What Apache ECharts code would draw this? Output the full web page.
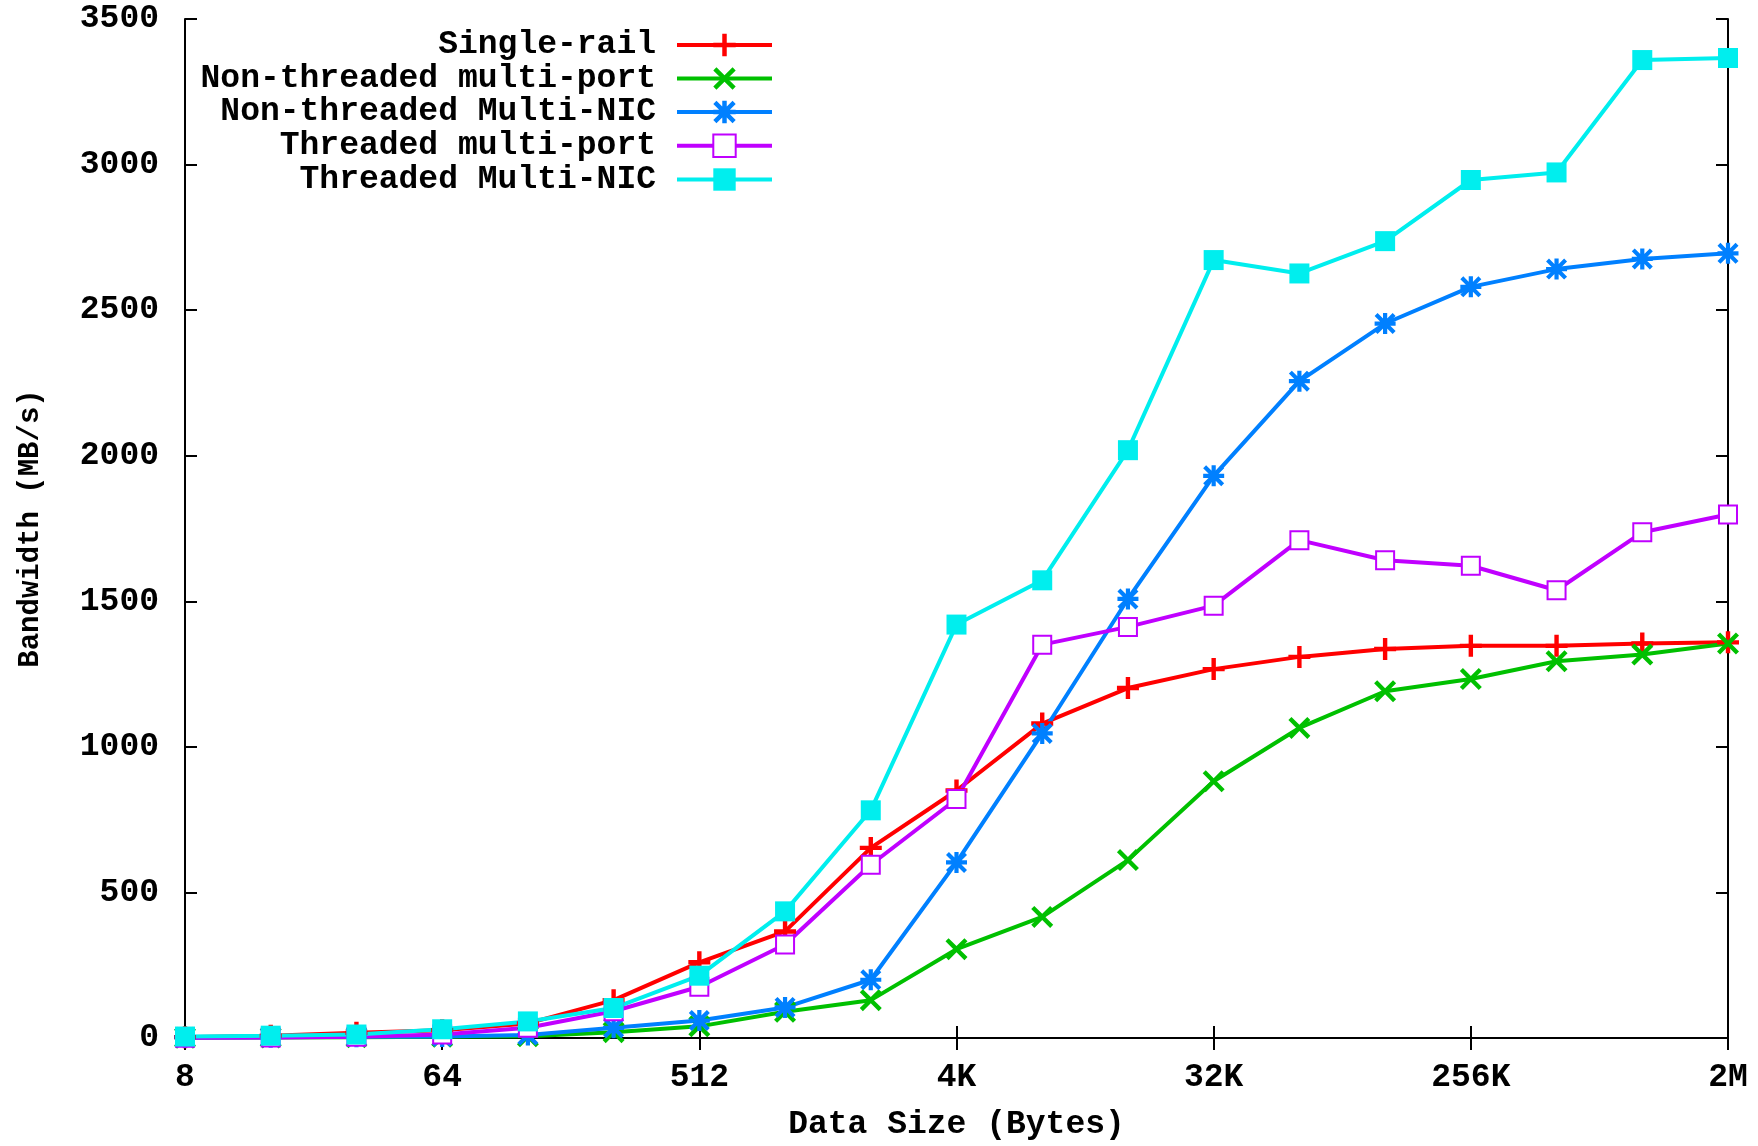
<!DOCTYPE html>
<html><head><meta charset="utf-8">
<script src="https://cdn.jsdelivr.net/npm/echarts@6/dist/echarts.min.js"></script>
<style>html,body{margin:0;padding:0;background:#fff}#c{width:1758px;height:1146px}</style>
</head><body><div id="c"></div><script>
const categories = ['8','16','32','64','128','256','512','1K','2K','4K','8K','16K','32K','64K','128K','256K','512K','1M','2M'];
const seriesNames = ['Single-rail','Non-threaded multi-port','Non-threaded Multi-NIC','Threaded multi-port','Threaded Multi-NIC'];
const singleRail        = [3, 8, 18, 27, 50, 130, 260, 366, 653, 850, 1080, 1202, 1267, 1309, 1336, 1347, 1347, 1355, 1359];
const ntMultiPort       = [1, 2, 3, 4, 6, 20, 40, 90, 130, 305, 416, 611, 882, 1065, 1191, 1233, 1294, 1317, 1355];
const ntMultiNIC        = [2, 3, 4, 5, 10, 35, 60, 105, 200, 603, 1046, 1508, 1931, 2256, 2454, 2580, 2641, 2676, 2695];
const tMultiPort        = [1, 2, 4, 12, 35, 92, 176, 321, 595, 821, 1351, 1412, 1485, 1710, 1641, 1622, 1538, 1737, 1798];
const tMultiNIC         = [5, 8, 12, 30, 57, 103, 214, 435, 782, 1420, 1572, 2019, 2672, 2626, 2737, 2947, 2973, 3359, 3366];
const yMin = 0, yMax = 3500, yStep = 500;

const FONT = 'Liberation Mono';
const colors = ['#ff0000', '#00c000', '#0080ff', '#c000ff', '#00eeee'];
const PLUS = 'path://M4,0L6,0L6,10L4,10Z M0,4L10,4L10,6L0,6Z';
const CROSS = 'path://M0,1.4L1.4,0L5,3.6L8.6,0L10,1.4L6.4,5L10,8.6L8.6,10L5,6.4L1.4,10L0,8.6L3.6,5Z';
const STAR = 'path://M4,0L6,0L6,10L4,10Z M0,4L10,4L10,6L0,6Z M0,1.4L1.4,0L5,3.6L8.6,0L10,1.4L6.4,5L10,8.6L8.6,10L5,6.4L1.4,10L0,8.6L3.6,5Z';
const symbols = [PLUS, CROSS, STAR, 'emptyRect', 'rect'];
const symbolSizes = [22, 22, 21, 18, 20];
const dataSets = [singleRail, ntMultiPort, ntMultiNIC, tMultiPort, tMultiNIC];

const textBase = {fontFamily: FONT, fontWeight: 'bold', fontSize: 33, color: '#000'};
const rowCenters = [42.5, 76, 109.5, 143.2, 177];

const chart = echarts.init(document.getElementById('c'), null, {renderer: 'canvas'});
const axisLine = {show: true, lineStyle: {color: '#000', width: 2}};
const option = {
  animation: false,
  backgroundColor: '#fff',
  grid: {left: 185, right: 30, top: 19, bottom: 99, containLabel: false},
  legend: seriesNames.map((n, i) => ({
    data: [n], orient: 'vertical', align: 'right', right: 984, top: rowCenters[i] - 14,
    padding: 0, itemWidth: 95, itemHeight: 28, selectedMode: false,
    lineStyle: {width: 4},
    textStyle: Object.assign({}, textBase, {padding: [0, 16, 0, 0]})
  })),
  xAxis: [{
    type: 'category', data: categories, boundaryGap: false,
    name: 'Data Size (Bytes)', nameLocation: 'middle', nameGap: 70,
    nameTextStyle: textBase,
    axisLine: axisLine,
    axisTick: {show: true, inside: true, length: 12, interval: 2, lineStyle: {color: '#000', width: 2}},
    axisLabel: Object.assign({}, textBase, {interval: 2, margin: 23}),
    splitLine: {show: false}
  }, {
    type: 'category', data: categories, boundaryGap: false, position: 'top',
    axisLine: axisLine,
    axisTick: {show: true, inside: true, length: 12, interval: 2, lineStyle: {color: '#000', width: 2}},
    axisLabel: {show: false}, splitLine: {show: false}
  }],
  yAxis: [{
    type: 'value', min: yMin, max: yMax, interval: yStep,
    name: 'Bandwidth (MB/s)', nameLocation: 'middle', nameGap: 140, nameRotate: 90,
    nameTextStyle: Object.assign({}, textBase, {fontSize: 29}),
    axisLine: axisLine,
    axisTick: {show: true, inside: true, length: 12, lineStyle: {color: '#000', width: 2}},
    axisLabel: Object.assign({}, textBase, {margin: 26, formatter: v => String(v)}),
    splitLine: {show: false}
  }, {
    type: 'value', min: yMin, max: yMax, interval: yStep, position: 'right',
    axisLine: axisLine,
    axisTick: {show: true, inside: true, length: 12, lineStyle: {color: '#000', width: 2}},
    axisLabel: {show: false}, splitLine: {show: false}
  }],
  series: seriesNames.map((n, i) => ({
    name: n, type: 'line', data: dataSets[i], xAxisIndex: 0, yAxisIndex: 0,
    symbol: symbols[i], symbolSize: symbolSizes[i], symbolKeepAspect: true,
    showAllSymbol: true, clip: false,
    lineStyle: {color: colors[i], width: 4},
    itemStyle: {color: colors[i], borderColor: colors[i], borderWidth: (i === 3 ? 3 : 0)},
    emphasis: {disabled: true}
  }))
};
chart.setOption(option);
</script></body></html>
